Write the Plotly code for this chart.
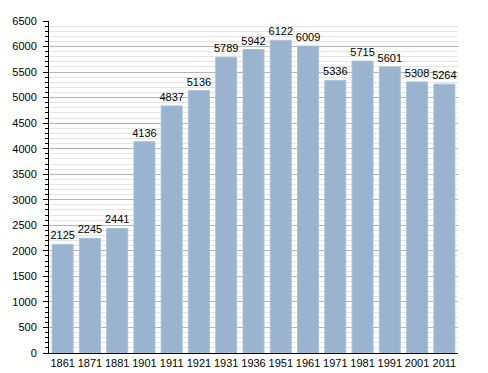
import plotly.graph_objects as go

years = ["1861", "1871", "1881", "1901", "1911", "1921", "1931", "1936",
         "1951", "1961", "1971", "1981", "1991", "2001", "2011"]
population = [2125, 2245, 2441, 4136, 4837, 5136, 5789, 5942,
              6122, 6009, 5336, 5715, 5601, 5308, 5264]

fig = go.Figure(go.Bar(
    x=years, y=population,
    text=[str(v) for v in population],
    textposition="outside",
    constraintext="none",
    textfont=dict(family="Liberation Sans, Arial", size=11, color="black"),
    marker=dict(color="#9ab3cf", line=dict(color="#a9c0d9", width=1)),
    cliponaxis=False,
))

# page body has an 8px default margin; figure is sized to fit the window
fig.update_layout(
    width=480, height=365,
    margin=dict(l=41, r=30, t=13, b=20),
    paper_bgcolor="white", plot_bgcolor="white",
    bargap=0.23,
    showlegend=False,
    font=dict(family="Liberation Sans, Arial", size=11, color="black"),
)
fig.update_xaxes(
    type="category", showline=True, linecolor="black", linewidth=1,
    ticks="", showgrid=False, tickfont=dict(size=11), automargin=False,
)
fig.update_yaxes(
    range=[0, 6500], dtick=500, tick0=0,
    showline=True, linecolor="black", linewidth=1,
    ticks="outside", ticklen=5, tickcolor="black",
    ticklabelstandoff=4, automargin=False,
    showgrid=True, gridcolor="#b4b4b4", gridwidth=1,
    zeroline=False,
    minor=dict(dtick=100, showgrid=True, gridcolor="#e4e4e4",
               ticks="outside", ticklen=3, tickcolor="black"),
    tickfont=dict(size=11),
)

fig.write_html("out.html")
